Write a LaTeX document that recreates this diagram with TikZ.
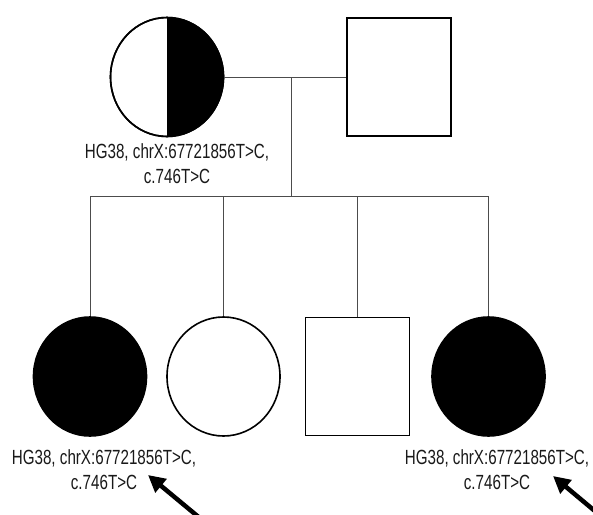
\documentclass[tikz,border=0pt]{standalone}
\usepackage{fontspec}
\setmainfont{Liberation Sans}[FakeStretch=0.74]
\usetikzlibrary{arrows.meta,shapes.geometric}
\begin{document}
\begin{tikzpicture}[x=1pt,y=-1pt,
  person/.style={draw=black,line width=1.6pt,inner sep=0pt},
  female/.style={person,ellipse,minimum width=113pt,minimum height=119pt},
  male/.style={person,rectangle,minimum width=104pt,minimum height=118pt},
  affected/.style={fill=black},
  link/.style={draw=black!70,line width=1pt},
  variant/.style={align=center,text=black!90,font=\fontsize{20.5}{25}\selectfont,inner sep=0pt},
  pointer/.style={line width=4.5pt,-{Triangle[length=17pt,width=17pt]}}]
\useasboundingbox (0,0) rectangle (593,514);
\clip (0,0) rectangle (593,514);

% parents
\node[female] (mother) at (167,77) {};
\begin{scope}
  \clip (167,10) rectangle (230,145);
  \fill (167,77) ellipse [x radius=56.5, y radius=59.5];
\end{scope}
\node[female] at (mother) {};
\node[male] (father) at (399,77) {};

% children
\node[female,affected] (c1) at (90,376.5) {};
\node[female] (c2) at (223.5,376.5) {};
\node[male] (c3) at (357.5,376.5) {};
\node[female,affected] (c4) at (488.5,376.5) {};

% marriage and descent lines
\draw[link] (mother.east) -- (father.west);
\coordinate (union) at (291,77);
\coordinate (sib) at (291,196);
\draw[link] (union) -- (sib);
\draw[link] (c1.north) -- (c1.north |- sib) -- (c4.north |- sib) -- (c4.north);
\draw[link] (c2.north) -- (c2.north |- sib);
\draw[link] (c3.north) -- (c3.north |- sib);

% variant labels
\node[variant] (lm) at (177,164) {HG38, chrX:67721856T>C,\\c.746T>C};
\node[variant] (l1) at (104,470) {HG38, chrX:67721856T>C,\\c.746T>C};
\node[variant] (l4) at (497,470) {HG38, chrX:67721856T>C,\\c.746T>C};

% probands
\coordinate (t1) at (207,524);
\coordinate (h1) at (148,475);
\coordinate (t4) at (608,522);
\coordinate (h4) at (553,476);
\draw[pointer] (t1) -- (h1);
\draw[pointer] (t4) -- (h4);
\end{tikzpicture}
\end{document}
